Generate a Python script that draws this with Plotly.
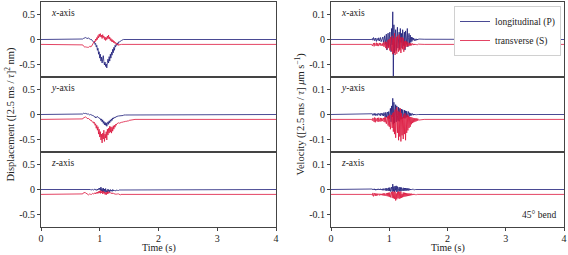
import plotly.graph_objects as go

# ---------------- data ----------------
time_s = [0.0,
          0.70, 0.71, 0.72, 0.73, 0.74, 0.75, 0.76, 0.77, 0.78, 0.79,
          0.80, 0.81, 0.82, 0.83, 0.84, 0.85, 0.86, 0.87, 0.88, 0.89,
          0.90, 0.91, 0.92, 0.93, 0.94, 0.95, 0.96, 0.97, 0.98, 0.99,
          1.00, 1.01, 1.02, 1.03, 1.04, 1.05, 1.06, 1.07, 1.08, 1.09,
          1.10, 1.11, 1.12, 1.13, 1.14, 1.15, 1.16, 1.17, 1.18, 1.19,
          1.20, 1.21, 1.22, 1.23, 1.24, 1.25, 1.26, 1.27, 1.28, 1.29,
          1.30, 1.31, 1.32, 1.33, 1.34, 1.35, 1.36, 1.37, 1.38, 1.39,
          1.40, 1.41, 1.42, 1.43, 1.44, 1.45, 1.46, 1.47, 1.48, 1.49,
          1.50, 1.60, 4.0]

disp_x_P = [0.0,
    0.00, 0.01, 0.02, 0.03, 0.04, 0.03, 0.04, 0.03, 0.02, 0.03,
    0.02, 0.03, 0.01, 0.02, 0.00, 0.01, -0.01, -0.02, -0.03, -0.04,
    -0.06, -0.05, -0.10, -0.08, -0.15, -0.12, -0.22, -0.18, -0.30, -0.25,
    -0.38, -0.30, -0.44, -0.36, -0.48, -0.40, -0.33, -0.45, -0.52, -0.46,
    -0.55, -0.50, -0.58, -0.47, -0.40, -0.48, -0.35, -0.44, -0.30, -0.38,
    -0.26, -0.32, -0.20, -0.27, -0.16, -0.22, -0.12, -0.15, -0.10, -0.12,
    -0.07, -0.09, -0.05, -0.06, -0.04, -0.04, -0.03, -0.02, -0.01, -0.01,
    0.00, 0.00, 0.00, 0.00, 0.00, 0.00, 0.00, 0.00, 0.00, 0.00,
    0.00, 0.00, 0.0]
disp_x_S = [0.0,
    0.00, -0.01, -0.03, -0.05, -0.05, -0.06, -0.05, -0.06, -0.05, -0.06,
    -0.05, -0.06, -0.05, -0.04, -0.05, -0.03, -0.04, -0.02, -0.01, 0.01,
    0.03, 0.07, 0.05, 0.11, 0.08, 0.14, 0.10, 0.18, 0.13, 0.21,
    0.16, 0.22, 0.15, 0.19, 0.12, 0.20, 0.14, 0.17, 0.10, 0.15,
    0.08, 0.14, 0.10, 0.17, 0.12, 0.19, 0.11, 0.15, 0.08, 0.12,
    0.06, 0.10, 0.05, 0.08, 0.03, 0.06, 0.02, 0.04, 0.00, 0.02,
    -0.01, 0.01, -0.02, 0.00, -0.01, 0.00, 0.00, 0.00, 0.00, 0.00,
    0.00, 0.00, 0.00, 0.00, 0.00, 0.00, 0.00, 0.00, 0.00, 0.00,
    0.00, 0.00, 0.0]
disp_y_P = [0.0,
    0.00, 0.01, 0.02, 0.03, 0.02, 0.03, 0.02, 0.02, 0.01, 0.01,
    0.00, 0.01, 0.00, -0.01, 0.00, -0.01, -0.02, -0.01, -0.02, -0.02,
    -0.03, -0.05, -0.04, -0.07, -0.05, -0.06, -0.04, -0.05, -0.06, -0.08,
    -0.07, -0.10, -0.12, -0.09, -0.15, -0.11, -0.18, -0.14, -0.21, -0.16,
    -0.22, -0.17, -0.24, -0.19, -0.15, -0.20, -0.13, -0.17, -0.11, -0.14,
    -0.09, -0.12, -0.07, -0.09, -0.06, -0.07, -0.05, -0.06, -0.04, -0.05,
    -0.03, -0.04, -0.03, -0.03, -0.02, -0.03, -0.02, -0.02, -0.02, -0.02,
    -0.02, -0.01, -0.02, -0.01, -0.01, -0.01, -0.01, -0.01, 0.00, 0.00,
    0.00, 0.00, 0.0]
disp_y_S = [0.0,
    0.00, 0.01, 0.03, 0.04, 0.05, 0.04, 0.05, 0.04, 0.03, 0.02,
    0.01, 0.02, 0.00, -0.01, -0.02, -0.01, -0.04, -0.03, -0.06, -0.05,
    -0.08, -0.06, -0.12, -0.09, -0.18, -0.12, -0.22, -0.15, -0.30, -0.20,
    -0.36, -0.25, -0.42, -0.30, -0.48, -0.28, -0.40, -0.22, -0.45, -0.30,
    -0.38, -0.25, -0.42, -0.20, -0.32, -0.18, -0.28, -0.14, -0.26, -0.15,
    -0.28, -0.16, -0.24, -0.13, -0.20, -0.12, -0.16, -0.10, -0.12, -0.09,
    -0.08, -0.09, -0.07, -0.08, -0.07, -0.07, -0.06, -0.06, -0.06, -0.05,
    -0.05, -0.05, -0.04, -0.04, -0.04, -0.04, -0.03, -0.03, -0.03, -0.03,
    -0.02, 0.00, 0.0]
disp_z_P = [0.0,
    0.00, 0.00, 0.01, 0.01, 0.00, 0.01, 0.00, 0.00, 0.00, 0.00,
    0.00, 0.00, 0.00, 0.00, 0.00, -0.01, 0.00, -0.01, 0.00, -0.01,
    0.00, -0.01, 0.01, -0.01, 0.00, -0.02, 0.01, -0.01, 0.02, 0.00,
    0.03, -0.02, 0.05, -0.03, 0.02, -0.05, 0.03, -0.04, 0.01, -0.06,
    0.02, -0.05, -0.02, -0.06, 0.01, -0.04, -0.01, -0.05, 0.00, -0.03,
    -0.01, -0.04, 0.00, -0.03, -0.01, -0.02, -0.02, -0.03, -0.01, -0.02,
    -0.02, -0.01, -0.02, -0.01, -0.01, -0.01, 0.00, -0.01, 0.00, 0.00,
    0.00, 0.00, 0.00, 0.00, 0.00, 0.00, 0.00, 0.00, 0.00, 0.00,
    0.00, 0.00, 0.0]
disp_z_S = [0.0,
    0.00, 0.01, 0.03, 0.04, 0.05, 0.04, 0.03, 0.02, 0.01, 0.00,
    0.00, -0.01, 0.00, 0.01, 0.00, 0.01, 0.00, 0.01, 0.02, 0.01,
    0.02, 0.01, 0.03, 0.01, 0.04, 0.02, 0.05, 0.02, 0.06, 0.03,
    0.07, 0.02, 0.08, 0.03, 0.06, 0.01, 0.07, 0.02, 0.05, 0.00,
    0.04, -0.01, 0.05, 0.01, 0.06, 0.02, 0.05, 0.03, 0.04, 0.02,
    0.03, 0.01, 0.03, 0.02, 0.02, 0.01, 0.02, 0.00, 0.01, 0.00,
    0.01, 0.00, 0.01, 0.00, 0.00, -0.01, 0.00, 0.00, 0.00, 0.00,
    0.00, 0.00, 0.00, 0.00, 0.00, 0.00, 0.00, 0.00, 0.00, 0.00,
    0.00, 0.00, 0.0]

vel_x_P = [0.0,
    0.000, 0.004, -0.003, 0.008, 0.001, -0.005, 0.006, -0.002, -0.008, 0.005,
    0.002, -0.004, 0.007, -0.006, 0.001, 0.008, -0.009, -0.002, 0.006, 0.010,
    -0.012, 0.004, 0.015, -0.020, 0.006, 0.022, -0.043, -0.010, 0.026, -0.030,
    0.012, 0.030, -0.018, -0.050, 0.045, -0.022, 0.113, -0.149, 0.060, -0.055,
    0.010, 0.040, -0.045, 0.020, 0.050, -0.035, -0.008, 0.030, -0.040, 0.045,
    -0.012, 0.025, -0.035, 0.040, 0.005, -0.025, 0.030, -0.043, 0.035, 0.010,
    -0.020, 0.045, -0.030, 0.008, 0.025, -0.020, 0.018, -0.012, 0.010, -0.008,
    0.008, -0.002, 0.006, -0.005, 0.001, -0.004, 0.003, -0.003, 0.002, -0.002,
    0.002, 0.001, 0.0]
vel_x_S = [0.0,
    0.000, -0.006, 0.002, 0.005, -0.008, 0.006, -0.001, -0.005, 0.007, -0.006,
    0.004, -0.007, 0.001, 0.006, -0.004, 0.005, -0.006, 0.000, 0.004, -0.006,
    0.008, -0.010, 0.003, 0.012, -0.015, 0.010, -0.020, 0.005, 0.018, -0.015,
    0.022, -0.025, 0.030, -0.008, -0.028, 0.035, -0.040, 0.025, -0.035, 0.045,
    -0.043, 0.010, 0.030, -0.038, 0.035, -0.012, -0.030, 0.040, -0.025, 0.028,
    -0.035, 0.005, 0.030, -0.020, 0.025, -0.030, 0.012, -0.018, 0.015, -0.010,
    0.012, -0.008, 0.008, -0.002, -0.007, 0.006, -0.005, 0.005, -0.004, 0.003,
    0.003, -0.003, 0.002, -0.002, 0.002, -0.002, 0.001, -0.001, 0.001, -0.001,
    0.001, 0.000, 0.0]
vel_y_P = [0.0,
    0.000, 0.003, -0.004, 0.001, 0.005, -0.003, 0.004, -0.005, 0.002, 0.003,
    -0.004, 0.005, 0.001, -0.003, 0.004, -0.005, 0.006, -0.001, -0.004, 0.005,
    -0.006, 0.008, 0.002, -0.010, 0.009, -0.012, 0.004, 0.010, -0.015, 0.012,
    -0.018, 0.005, 0.025, -0.030, 0.035, -0.010, 0.066, -0.040, 0.050, -0.035,
    0.010, 0.040, -0.030, 0.035, -0.005, -0.025, 0.030, -0.028, 0.025, 0.004,
    -0.020, 0.022, -0.018, 0.020, -0.002, -0.015, 0.018, -0.016, 0.015, -0.012,
    0.014, -0.010, 0.003, 0.012, -0.009, 0.007, -0.005, 0.005, -0.004, 0.004,
    0.003, -0.003, 0.002, -0.002, 0.002, -0.001, 0.001, -0.001, 0.001, 0.000,
    0.000, 0.000, 0.0]
vel_y_S = [0.0,
    0.000, -0.005, 0.006, -0.002, -0.010, 0.008, -0.012, 0.005, 0.001, -0.008,
    0.006, -0.010, 0.007, -0.003, -0.009, 0.006, -0.008, 0.005, -0.007, 0.002,
    0.006, -0.010, 0.008, -0.012, 0.010, -0.018, 0.004, 0.012, -0.025, 0.015,
    -0.030, 0.020, -0.040, -0.005, 0.018, -0.035, 0.025, -0.050, 0.030, -0.060,
    0.040, -0.075, -0.010, 0.050, -0.055, 0.035, -0.085, 0.030, -0.070, 0.045,
    -0.090, 0.025, -0.065, 0.010, -0.080, 0.020, -0.060, 0.025, -0.085, 0.015,
    -0.055, 0.020, -0.045, 0.015, -0.035, 0.010, -0.030, 0.010, -0.020, 0.008,
    -0.015, 0.006, -0.012, 0.005, -0.010, 0.004, -0.008, 0.004, -0.006, 0.003,
    -0.003, 0.000, 0.0]
vel_z_P = [0.0,
    0.000, 0.002, -0.002, 0.001, 0.003, -0.002, 0.002, -0.003, 0.000, 0.002,
    -0.002, 0.003, -0.001, 0.002, -0.002, 0.003, -0.002, 0.001, -0.003, 0.003,
    -0.003, 0.004, -0.001, -0.004, 0.005, -0.005, 0.006, 0.001, -0.006, 0.007,
    -0.006, 0.008, -0.008, 0.002, 0.010, -0.009, 0.022, -0.008, 0.012, -0.010,
    0.014, -0.004, 0.015, -0.010, 0.012, -0.009, 0.003, 0.010, -0.008, 0.009,
    -0.007, 0.008, -0.006, 0.001, 0.007, -0.006, 0.006, -0.005, 0.006, -0.005,
    0.005, -0.004, 0.005, -0.004, 0.004, -0.003, 0.002, -0.002, 0.002, -0.001,
    0.001, -0.001, 0.001, -0.001, 0.001, 0.000, 0.000, 0.000, 0.000, 0.000,
    0.000, 0.000, 0.0]
vel_z_S = [0.0,
    0.000, -0.004, 0.006, -0.008, 0.002, 0.005, -0.006, 0.004, -0.005, 0.003,
    -0.004, 0.003, -0.001, -0.004, 0.003, -0.003, 0.002, -0.003, 0.003, -0.004,
    0.004, -0.005, 0.004, -0.006, 0.001, 0.005, -0.007, 0.006, -0.008, 0.007,
    -0.010, 0.008, -0.012, 0.003, 0.010, -0.014, 0.012, -0.016, 0.010, -0.018,
    0.012, -0.025, 0.004, -0.020, 0.010, -0.015, 0.012, -0.018, 0.010, -0.016,
    0.012, -0.014, 0.002, -0.012, 0.008, -0.010, 0.007, -0.009, 0.006, -0.008,
    0.005, -0.007, 0.004, -0.006, 0.004, -0.005, 0.003, -0.004, 0.003, -0.003,
    0.002, -0.002, 0.002, -0.002, 0.001, -0.001, 0.001, -0.001, 0.000, 0.000,
    0.000, 0.000, 0.0]

S_OFFSET_DISP = -0.1
S_OFFSET_VEL = -0.02

axis_names = ["x", "y", "z"]
disp_P = [disp_x_P, disp_y_P, disp_z_P]
disp_S = [disp_x_S, disp_y_S, disp_z_S]
vel_P = [vel_x_P, vel_y_P, vel_z_P]
vel_S = [vel_x_S, vel_y_S, vel_z_S]

disp_ticks = [-0.5, 0, 0.5]
disp_ticktext = ["-0.5", "0", "0.5"]
vel_ticks = [-0.1, 0, 0.1]
vel_ticktext = ["-0.1", "0", "0.1"]
time_ticks = [0, 1, 2, 3, 4]

series_names = ["longitudinal (P)", "transverse (S)"]

# ---------------- styling ----------------
BLUE = "#1c1c78"
RED = "#dc143c"
FONT = "Liberation Serif"
W, H = 568, 255

def px_x(p):
    return p / W

def px_y(p):
    return 1 - p / H

col_x = [(41, 276), (331, 564)]
row_y = [(2, 77), (77, 152), (152, 227)]

fig = go.Figure()
layout = dict(
    width=W, height=H, autosize=False,
    margin=dict(l=0, r=0, t=0, b=0, autoexpand=False),
    paper_bgcolor="white", plot_bgcolor="white",
    font=dict(family=FONT, size=10, color="#222"),
    showlegend=True,
    legend=dict(x=px_x(561), y=px_y(6), xanchor="right", yanchor="top",
                bgcolor="white", bordercolor="#d0d0d0", borderwidth=1,
                font=dict(family=FONT, size=9.5, color="#222"),
                tracegroupgap=0, itemwidth=30),
)
annotations = []

idx = 0
for c in range(2):
    for r in range(3):
        idx += 1
        xa = "x" if idx == 1 else f"x{idx}"
        ya = "y" if idx == 1 else f"y{idx}"
        xkey = "xaxis" if idx == 1 else f"xaxis{idx}"
        ykey = "yaxis" if idx == 1 else f"yaxis{idx}"
        if c == 0:
            P, S, off = disp_P[r], disp_S[r], S_OFFSET_DISP
            yr = [-0.765, 0.765]
            tv, tt = disp_ticks, disp_ticktext
        else:
            P, S, off = vel_P[r], vel_S[r], S_OFFSET_VEL
            yr = [-0.153, 0.153]
            tv, tt = vel_ticks, vel_ticktext
        fig.add_trace(go.Scatter(
            x=time_s, y=P, mode="lines", xaxis=xa, yaxis=ya,
            line=dict(color=BLUE, width=0.8),
            name=series_names[0], showlegend=(idx == 4), legendgroup="P"))
        fig.add_trace(go.Scatter(
            x=time_s, y=[v + off for v in S], mode="lines", xaxis=xa, yaxis=ya,
            line=dict(color=RED, width=0.8),
            name=series_names[1], showlegend=(idx == 4), legendgroup="S"))
        bottom = (r == 2)
        layout[xkey] = dict(
            domain=[px_x(col_x[c][0]), px_x(col_x[c][1])],
            range=[0, 4], anchor=ya, automargin=False,
            showline=True, linecolor="#444", linewidth=1, mirror=True,
            showgrid=False, zeroline=False,
            tickvals=time_ticks if bottom else [],
            ticks="outside" if bottom else "", ticklen=3, tickcolor="#444",
            showticklabels=bottom, ticklabelstandoff=-1,
            tickfont=dict(family=FONT, size=10, color="#222"),
        )
        layout[ykey] = dict(
            domain=[px_y(row_y[r][1]), px_y(row_y[r][0])],
            range=yr, anchor=xa, automargin=False,
            showline=True, linecolor="#444", linewidth=1, mirror=True,
            showgrid=False, zeroline=False,
            tickvals=tv, ticktext=tt,
            ticks="outside", ticklen=3, tickcolor="#444",
            tickfont=dict(family=FONT, size=10, color="#222"),
        )
        annotations.append(dict(
            text=f"<i>{axis_names[r]}</i>-axis", xref="paper", yref="paper",
            x=px_x(col_x[c][0] + 8), y=px_y(row_y[r][0] + 11),
            xanchor="left", yanchor="middle", showarrow=False,
            font=dict(family=FONT, size=9.5, color="#222")))

# axis titles
annotations.append(dict(
    text="Displacement ([2.5 ms / <i>τ</i>]<sup>2</sup> nm)",
    xref="paper", yref="paper", x=px_x(10), y=px_y(114.5),
    textangle=-90, showarrow=False, xanchor="center", yanchor="middle",
    font=dict(family=FONT, size=10.5, color="#222")))
annotations.append(dict(
    text="Velocity ([2.5 ms / <i>τ</i>] <i>μ</i>m s<sup>−1</sup>)",
    xref="paper", yref="paper", x=px_x(300), y=px_y(114.5),
    textangle=-90, showarrow=False, xanchor="center", yanchor="middle",
    font=dict(family=FONT, size=10.5, color="#222")))
for c in range(2):
    annotations.append(dict(
        text="Time (s)", xref="paper", yref="paper",
        x=px_x((col_x[c][0] + col_x[c][1]) / 2), y=0,
        showarrow=False, xanchor="center", yanchor="bottom", borderpad=0,
        font=dict(family=FONT, size=10, color="#222")))
annotations.append(dict(
    text="45° bend", xref="paper", yref="paper",
    x=px_x(558), y=px_y(215), showarrow=False,
    xanchor="right", yanchor="middle",
    font=dict(family=FONT, size=9.5, color="#222")))

layout["annotations"] = annotations
fig.update_layout(**layout)
fig.write_html("out.html",
               config={"displayModeBar": False, "staticPlot": True},
               post_script="document.body.style.margin='0px';"
                           "document.body.style.overflow='hidden';")
